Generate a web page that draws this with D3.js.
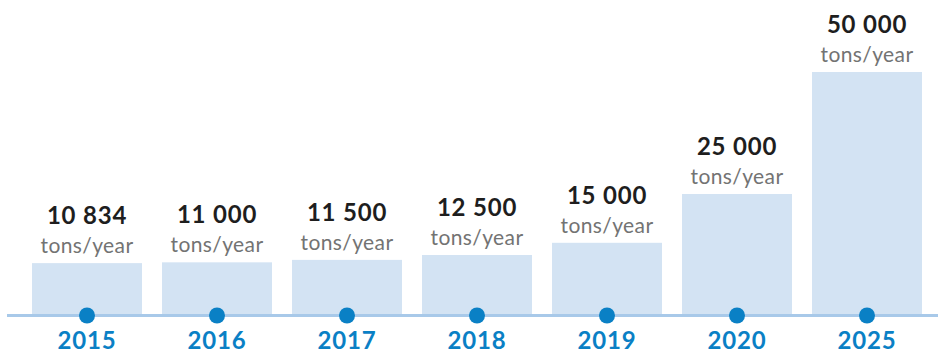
<!DOCTYPE html>
<html>
<head>
<meta charset="utf-8">
<script src="https://cdn.jsdelivr.net/npm/d3@7"></script>
<style>
  body { margin: 0; background: #fff; }
  svg { display: block; font-family: Lato, "Open Sans", sans-serif; }
  .value-label { font-weight: 700; font-size: 24px; letter-spacing: 0.8px; fill: #1e1e1e; }
  .unit-label { font-size: 21px; letter-spacing: 0.4px; fill: #737373; }
  .year-label { font-weight: 700; font-size: 24px; letter-spacing: 0.8px; fill: #0a80c5; }
</style>
</head>
<body>
<svg id="chart"></svg>
<script>
const WIDTH = 938;
const HEIGHT = 354;
const BASELINE_Y = 316;
const TOP_Y = 72;

// chart data
const years = ['2015', '2016', '2017', '2018', '2019', '2020', '2025'];
const capacities = [10834, 11000, 11500, 12500, 15000, 25000, 50000];
const valueLabels = ['10 834', '11 000', '11 500', '12 500', '15 000', '25 000', '50 000'];
const unitLabel = 'tons/year';

const svg = d3.select('#chart')
    .attr('width', WIDTH)
    .attr('height', HEIGHT);

const x = d3.scaleBand()
    .domain(years)
    .range([22, 932])
    .paddingInner(2 / 13)
    .paddingOuter(1 / 13);

const y = d3.scaleLinear()
    .domain([0, d3.max(capacities)])
    .range([BASELINE_Y, TOP_Y]);

const rows = years.map((year, i) => ({
  year,
  value: capacities[i],
  label: valueLabels[i],
}));

const cx = d => x(d.year) + x.bandwidth() / 2;

// the bars
svg.append('g')
    .selectAll('rect')
    .data(rows)
    .join('rect')
    .attr('x', d => x(d.year))
    .attr('y', d => y(d.value))
    .attr('width', x.bandwidth())
    .attr('height', d => BASELINE_Y - y(d.value))
    .attr('fill', '#d3e3f3');

// the baseline
svg.append('line')
    .attr('x1', 7)
    .attr('x2', WIDTH)
    .attr('y1', BASELINE_Y - 0.5)
    .attr('y2', BASELINE_Y - 0.5)
    .attr('stroke', '#a8c9e9')
    .attr('stroke-width', 3);

// the dots on the baseline
svg.append('g')
    .selectAll('circle')
    .data(rows)
    .join('circle')
    .attr('cx', cx)
    .attr('cy', BASELINE_Y - 0.5)
    .attr('r', 8)
    .attr('fill', '#0a80c5');

// value + unit labels
const labels = svg.append('g')
    .attr('text-anchor', 'middle')
    .selectAll('g')
    .data(rows)
    .join('g')
    .attr('transform', d => `translate(${cx(d)},${y(d.value)})`);

labels.append('text')
    .attr('class', 'value-label')
    .attr('y', -39)
    .text(d => d.label);

labels.append('text')
    .attr('class', 'unit-label')
    .attr('y', -10)
    .text(unitLabel);

// year labels
svg.append('g')
    .attr('text-anchor', 'middle')
    .selectAll('text')
    .data(rows)
    .join('text')
    .attr('class', 'year-label')
    .attr('x', cx)
    .attr('y', 349)
    .text(d => d.year);
</script>
</body>
</html>
